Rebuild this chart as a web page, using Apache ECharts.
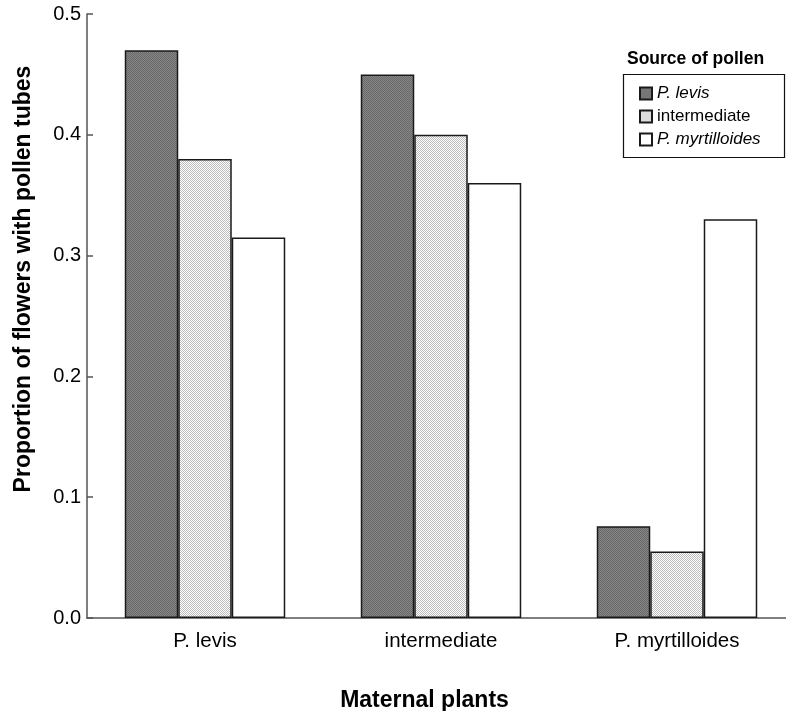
<!DOCTYPE html>
<html>
<head>
<meta charset="utf-8">
<script src="https://cdn.jsdelivr.net/npm/echarts@6/dist/echarts.min.js"></script>
<style>
  html, body { margin: 0; padding: 0; background: #fff; }
  #chart { width: 786px; height: 711px; }
</style>
</head>
<body>
<div id="chart"></div>
<script>
// Maternal plant groups on the x axis
const maternalPlants = ['P. levis', 'intermediate', 'P. myrtilloides'];
// Pollen sources (one bar series each)
const pollenSources = ['P. levis', 'intermediate', 'P. myrtilloides'];
// Proportion of flowers with pollen tubes, by pollen source
const fromLevis = [0.47, 0.45, 0.076];
const fromIntermediate = [0.38, 0.40, 0.055];
const fromMyrtilloides = [0.315, 0.36, 0.33];
// Y axis ticks
const yTicks = [0, 0.1, 0.2, 0.3, 0.4, 0.5];

const FONT = '"Liberation Sans", Arial, sans-serif';

// Small repeating fill textures
function makeTile(a, b) {
  const c = document.createElement('canvas');
  c.width = 2; c.height = 2;
  const ctx = c.getContext('2d');
  ctx.fillStyle = b; ctx.fillRect(0, 0, 2, 2);
  ctx.fillStyle = a; ctx.fillRect(0, 0, 1, 1); ctx.fillRect(1, 1, 1, 1);
  return c;
}
const darkFill = { image: makeTile('#686868', '#878787'), repeat: 'repeat' };
const stippleFill = { image: makeTile('#bcbcbc', '#ffffff'), repeat: 'repeat' };
const fills = [darkFill, stippleFill, '#ffffff'];
const values = [fromLevis, fromIntermediate, fromMyrtilloides];

const chart = echarts.init(document.getElementById('chart'), null, { renderer: 'canvas' });

const series = pollenSources.map((name, i) => ({
  name: name,
  type: 'bar',
  data: values[i],
  barGap: '0%',
  barCategoryGap: '32%',
  itemStyle: { color: fills[i], borderColor: '#1a1a1a', borderWidth: 1.5 },
  emphasis: { disabled: true }
}));

chart.setOption({
  animation: false,
  textStyle: { fontFamily: FONT },
  grid: { left: 87, top: 14, bottom: 93, width: 708, outerBoundsMode: 'none', containLabel: false },
  xAxis: {
    type: 'category',
    data: maternalPlants,
    name: 'Maternal plants',
    nameLocation: 'middle',
    nameGap: 71,
    nameTextStyle: { fontFamily: FONT, fontSize: 23, fontWeight: 'bold', color: '#000', padding: [0, 33, 0, 0] },
    axisLine: { lineStyle: { color: '#555', width: 1.5 } },
    axisTick: { alignWithLabel: true, length: 5, lineStyle: { color: '#555', width: 1.5 } },
    axisLabel: { fontFamily: FONT, fontSize: 20.5, color: '#000', margin: 13 }
  },
  yAxis: {
    type: 'value',
    min: yTicks[0],
    max: yTicks[yTicks.length - 1],
    interval: 0.1,
    name: 'Proportion of flowers with pollen tubes',
    nameLocation: 'middle',
    nameGap: 52,
    nameTextStyle: { fontFamily: FONT, fontSize: 23, fontWeight: 'bold', color: '#000', padding: [0, 0, 0, 74] },
    axisLine: { show: true, lineStyle: { color: '#555', width: 1.5 } },
    axisTick: { show: true, inside: true, length: 6, lineStyle: { color: '#555', width: 1.5 } },
    axisLabel: {
      fontFamily: FONT, fontSize: 20, color: '#000', margin: 6,
      formatter: v => v.toFixed(1)
    },
    splitLine: { show: false }
  },
  legend: {
    data: pollenSources,
    orient: 'vertical',
    left: 634,
    top: 80,
    itemWidth: 12,
    itemHeight: 12,
    itemGap: 6,
    icon: 'rect',
    selectedMode: false,
    textStyle: {
      fontFamily: FONT, fontSize: 17, color: '#000',
      rich: {
        it: { fontFamily: FONT, fontSize: 17, fontStyle: 'italic', color: '#000' },
        n: { fontFamily: FONT, fontSize: 17, color: '#000' }
      }
    },
    formatter: name => name === 'intermediate' ? '{n|' + name + '}' : '{it|' + name + '}'
  },
  graphic: [
    {
      type: 'rect',
      shape: { x: 623.5, y: 74.5, width: 161, height: 83 },
      style: { fill: 'none', stroke: '#111', lineWidth: 1.2 },
      z: 10
    },
    {
      type: 'text',
      left: 627,
      top: 50,
      style: { text: 'Source of pollen', font: 'bold 17.5px ' + FONT, fill: '#000' },
      z: 10
    }
  ],
  series: series
});
</script>
</body>
</html>
